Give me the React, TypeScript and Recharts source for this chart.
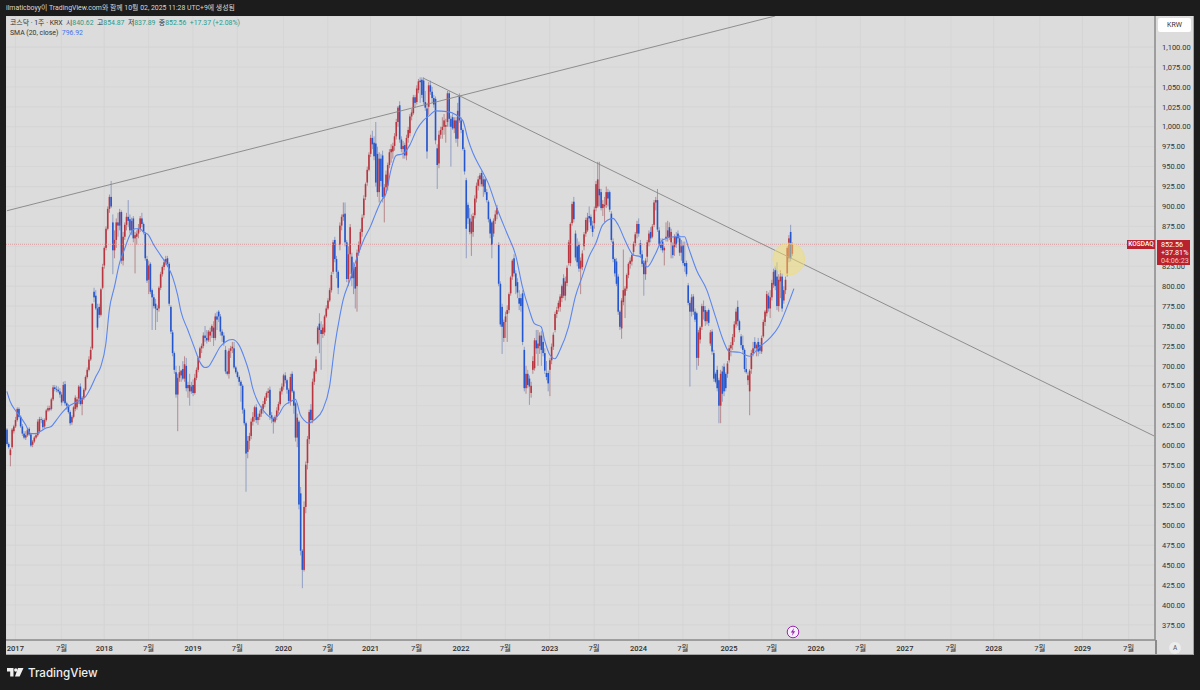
import React from 'react';
import { ComposedChart, Bar, Line, XAxis, YAxis, CartesianGrid, ReferenceLine, ReferenceDot } from 'recharts';

// weekly candles as [open, high, low, close]
const late2016 = [[620,622,600,602],[602,604,596,598],[588,597,574,595],[598,622,596,620],[618,626,615,624]];
const candles2017 = [
  [624,636,622,632],[632,648,630,646],[646,648,634,636],[636,638,622,624],[624,627,612,615],[615,618,608,610],[610,618,607,613],[613,622,611,620],
  [621,623,612,614],[614,616,598,600],[601,607,598,605],[605,612,603,610],[610,616,608,613],[613,633,611,630],[618,636,615,633],[633,636,628,632],
  [632,634,620,623],[624,634,622,632],[632,646,630,644],[644,650,642,647],[647,650,643,645],[646,660,644,658],[658,676,656,673],[673,676,668,671],
  [671,675,667,670],[670,674,666,668],[668,672,660,664],[664,667,650,654],[656,680,654,676],[677,681,650,653],[653,655,645,650],[650,652,640,642],
  [642,644,625,628],[629,638,626,636],[636,650,634,648],[646,663,643,660],[648,661,645,658],[659,676,652,674],[674,678,650,652],[652,662,638,660],
  [660,672,657,670],[670,688,668,686],[686,698,684,695],[695,712,693,708],[708,724,706,720],[722,778,720,778],[793,798,780,786],[788,795,770,772],
  [772,778,745,748],[774,778,760,764],[764,798,762,796],[798,828,796,824],
];
const candles2018 = [
  [826,850,822,848],[848,875,845,872],[872,900,870,897],[897,915,892,912],[912,932,898,900],[880,890,815,845],[845,870,835,858],[858,885,848,880],
  [880,892,862,876],[876,897,870,893],[893,895,828,832],[832,868,826,862],[862,880,858,877],[877,892,870,887],[887,908,874,882],[884,890,866,870],
  [870,886,864,882],[885,888,855,860],[860,868,816,864],[862,870,852,866],[866,878,860,872],[872,888,868,885],[885,892,874,878],[878,880,865,868],
  [866,868,832,835],[834,838,804,807],[808,832,790,826],[828,830,790,793],[795,797,745,786],[786,790,772,775],[778,784,745,772],[772,776,755,770],
  [772,800,768,798],[798,818,795,815],[815,826,812,824],[824,834,820,830],[830,838,826,834],[835,838,824,828],[828,830,775,778],[774,776,740,743],
  [742,745,712,716],[716,718,690,695],[692,700,660,664],[664,690,618,685],[685,700,680,692],[688,695,680,694],[696,706,682,684],[684,712,680,702],
  [700,710,668,672],[672,680,660,676],[676,690,650,668],[668,680,665,674],[676,683,662,666],
];
const candles2019 = [
  [666,690,664,685],[685,698,682,695],[695,712,692,710],[710,724,708,722],[722,728,716,725],[725,742,722,738],[738,750,730,735],[735,745,728,732],
  [732,745,730,743],[738,748,730,743],[743,752,735,750],[748,756,725,735],[735,766,732,762],[762,768,745,758],[768,770,755,762],[762,765,738,743],
  [743,746,730,738],[738,742,725,729],[720,725,690,693],[693,718,688,690],[690,722,684,719],[719,725,710,722],[722,730,716,724],[722,730,696,698],
  [698,700,690,692],[692,694,684,686],[686,688,675,680],[680,682,655,675],[675,677,640,645],[645,647,625,628],[628,630,542,590],[592,612,584,606],
  [606,616,595,612],[612,634,608,630],[630,642,625,636],[636,650,630,648],[648,652,628,632],[632,640,626,636],[636,644,632,640],[640,650,636,646],
  [646,656,640,652],[652,662,648,660],[660,668,656,666],[666,672,660,668],[670,674,632,638],[638,642,628,634],[634,636,615,630],[630,638,628,636],
  [636,648,632,644],[644,655,640,652],[652,672,650,668],[668,678,664,674],
];
const candles2020 = [
  [674,690,670,688],[688,692,678,682],[682,684,665,670],[670,672,652,656],[656,690,650,686],[690,693,666,668],[668,670,640,650],[653,655,605,610],
  [610,640,598,635],[630,632,520,526],[540,548,462,468],[468,470,421,444],[444,530,442,523],[523,580,515,576],[578,612,570,608],[608,645,602,642],
  [645,652,628,632],[632,684,628,680],[680,697,676,693],[693,712,690,708],[728,750,726,748],[753,766,716,745],[745,756,695,740],[740,752,735,748],
  [742,764,738,762],[762,776,760,772],[772,785,770,782],[782,798,780,795],[795,818,792,814],[818,858,815,855],[858,862,830,834],[834,838,810,818],
  [818,820,790,798],[852,880,845,876],[876,890,870,887],[887,905,882,890],[891,905,850,855],[855,858,805,809],[809,850,800,840],[840,878,815,874],
  [837,842,800,810],[810,830,790,822],[824,826,772,797],[800,846,768,842],[842,856,838,852],[852,872,846,868],[868,890,862,886],[889,914,885,910],
  [912,930,908,928],[930,950,926,946],[946,968,944,965],[966,990,962,986],
];
const candles2021 = [
  [986,995,972,978],[980,988,958,963],[979,1006,925,930],[966,975,912,918],[918,968,905,960],[960,966,925,932],[964,970,905,912],[912,928,880,924],
  [924,945,918,940],[926,955,920,952],[952,972,948,968],[968,978,955,972],[969,980,960,976],[976,992,970,988],[988,1010,984,1006],[1006,1026,1000,1024],
  [1027,1032,980,984],[984,988,968,972],[972,982,960,976],[977,980,960,964],[964,990,958,986],[986,1000,980,996],[992,1016,988,1013],[1013,1022,1008,1018],
  [1017,1040,1015,1037],[1037,1040,1024,1030],[1031,1052,1028,1048],[1046,1060,1042,1057],[1058,1062,1030,1056],[1059,1062,1036,1040],[1058,1062,1028,1031],[1031,1045,1020,1024],
  [1023,1030,960,969],[1025,1056,1015,1052],[1052,1058,1040,1044],[1044,1050,1030,1036],[1036,1040,1024,1028],[1035,1038,978,983],[973,978,922,952],[954,995,948,990],
  [990,1000,985,996],[996,1012,985,1000],[1000,1016,990,1008],[1000,1010,980,1002],[1006,1045,1000,1042],[1042,1045,1000,1010],[1010,1014,950,1000],[1012,1016,996,998],
  [998,1012,992,1008],[1008,1012,980,985],[985,1030,975,1020],[1038,1042,1005,1008],
];
const candles2022 = [
  [1008,1012,992,996],[996,998,970,972],[971,974,940,944],[933,936,835,872],[902,905,878,885],[885,898,865,868],[866,890,838,881],[868,892,862,888],
  [889,914,885,910],[910,930,905,926],[926,938,920,934],[934,942,925,939],[942,945,925,928],[925,938,912,934],[934,936,915,918],[918,922,905,908],
  [906,908,880,884],[884,886,860,866],[880,882,835,852],[866,885,862,882],[882,895,878,890],[890,902,884,898],[852,855,800,803],[803,806,749,752],
  [774,778,715,749],[735,758,730,755],[755,768,735,762],[765,776,730,770],[770,792,766,790],[791,813,788,811],[812,834,808,832],[835,840,812,816],
  [816,820,790,800],[805,810,785,792],[785,795,770,778],[785,790,768,775],[791,795,726,730],[720,724,668,672],[672,700,665,690],[690,695,672,676],
  [684,688,651,674],[666,680,660,675],[695,712,690,706],[697,735,694,732],[732,745,715,722],[722,745,700,728],[725,742,715,738],[738,744,700,720],
  [730,742,712,716],[716,722,690,694],[691,706,682,686],[691,694,668,678],
];
const candles2023 = [
  [695,710,662,707],[707,728,702,724],[724,742,720,739],[745,768,742,765],[765,774,760,770],[772,782,768,779],[774,790,768,787],[785,802,780,800],
  [810,815,785,788],[788,812,782,806],[804,826,800,823],[829,858,826,855],[829,880,825,878],[879,906,876,903],[906,912,880,884],[866,870,832,836],
  [850,860,825,830],[852,856,818,822],[822,836,790,832],[824,845,820,841],[850,868,845,865],[866,886,862,883],[870,892,868,886],[888,900,880,885],
  [887,890,872,876],[876,882,862,868],[879,900,872,896],[898,932,894,928],[900,956,898,934],[922,956,900,914],[918,922,895,898],[898,908,888,903],
  [900,912,880,902],[902,925,898,918],[918,922,900,910],[918,920,893,896],[891,894,855,858],[856,860,830,834],[834,836,812,816],[831,835,800,803],
  [812,815,764,768],[768,770,745,749],[747,785,734,782],[780,846,776,795],[788,800,760,797],[797,816,794,814],[814,830,810,828],[828,836,822,832],
  [831,842,826,839],[843,856,838,853],[854,868,850,865],[866,882,860,878],
];
const candles2024 = [
  [878,885,862,866],[854,858,836,840],[840,845,824,828],[829,832,788,815],[815,835,808,832],[837,858,830,855],[855,870,850,866],[868,874,855,860],
  [862,878,860,875],[877,908,874,905],[905,912,895,908],[908,922,868,871],[870,874,850,852],[852,860,845,848],[856,860,842,845],[845,850,826,848],
  [860,880,856,862],[862,882,856,870],[874,880,858,861],[855,872,835,868],[851,855,835,839],[849,865,838,862],[862,868,848,852],[866,870,855,860],
  [860,864,838,842],[842,858,832,850],[851,856,826,829],[829,856,818,825],[829,832,812,815],[801,804,776,779],[779,782,674,768],[768,790,762,786],
  [787,790,764,768],[768,772,755,758],[766,768,695,710],[710,745,700,742],[733,750,728,748],[749,778,745,775],[775,782,758,768],[770,775,750,756],
  [756,770,752,768],[770,772,750,754],[728,745,725,742],[743,746,714,718],[716,720,680,684],[690,692,678,680],[695,700,668,672],[682,685,628,650],
  [650,695,628,690],[693,700,655,665],[699,703,662,668],[690,692,668,672],[690,706,685,703],
];
const candles2025 = [
  [707,726,704,722],[722,730,712,726],[726,740,720,736],[736,756,730,752],[752,772,748,768],[774,782,750,756],[756,758,742,745],[737,740,722,726],
  [726,738,715,720],[720,722,692,696],[696,710,690,692],[682,692,676,688],[668,696,638,694],[696,720,690,716],[716,730,712,722],[730,736,718,722],
  [722,728,712,726],[730,735,712,718],[726,730,715,719],[718,738,715,735],[737,758,735,755],[755,770,750,768],[766,794,762,790],[788,792,768,772],
  [772,795,760,786],[786,808,782,804],[802,822,798,818],[820,825,795,800],[812,830,770,775],[775,815,768,808],[806,820,785,812],[812,816,768,772],
  [782,800,778,795],[795,812,790,808],[816,850,812,848],[835,864,830,860],[868,877,831,835],[840.62,854.87,837.89,852.56],
];

// SMA 20 samples: week index and value
const smaWeeks = [0,2,5,8,11,14,17,19,23,26,29,33,36,41,46,49,52,55,58,60,63,66,69,72,75,78,80,83,86,90,94,97,100,102,106,110,113,116,118,121,125,128,132,136,139,142,144,147,151,156,159,162,166,169,172,174,177,180,185,189,192,195,197,201,204,209,213,216,219,222,225,228,232,236,240,244,248,251,258,263,267,270,273,278,282,287,293,298,302,306,309,313,315,318,321,324,329,333,337,341,345,349,355,358,362,367,371,375,380,384,391,397,399,404,410,415,420,423,429,435,441,447,452,457,461];
const smaValues = [668,655,644,636,626,615,615,617,622,624,632,643,649,655,661,672,686,699,728,770,799,829,847,864,872,872,868,864,852,839,826,812,789,768,745,722,705,698,699,709,724,730,733,726,711,691,672,655,642,634,638,649,655,658,638,632,628,632,645,674,724,762,783,808,829,858,875,891,906,916,946,964,966,977,996,1008,1015,1020,1019,1015,1008,985,967,946,929,898,866,839,799,770,753,749,732,714,709,720,749,787,812,837,854,877,885,877,858,839,837,824,841,858,862,862,850,820,795,762,730,718,717,712,724,735,749,774,796.92];

const tickWeeks = [5,32,57,83,109,135,162,188,213,240,266,292,318,344,370,396,423,448,474,500,526,553,578,605,630,657];
const tickLabels = ['2017','7월','2018','7월','2019','7월','2020','7월','2021','7월','2022','7월','2023','7월','2024','7월','2025','7월','2026','7월','2027','7월','2028','7월','2029','7월'];
const priceTicks = [375,400,425,450,475,500,525,550,575,600,625,650,675,700,725,750,775,800,825,850,875,900,925,950,975,1000,1025,1050,1075,1100];

const lastPrice = 852.56;
const slots = 673;
const candles = [...late2016, ...candles2017, ...candles2018, ...candles2019, ...candles2020, ...candles2021, ...candles2022, ...candles2023, ...candles2024, ...candles2025];

const rows: any[] = Array.from({ length: slots }, (_, i) => ({ i }));
candles.forEach((c, i) => {
  rows[i].open = c[0];
  rows[i].high = c[1];
  rows[i].low = c[2];
  rows[i].close = c[3];
  rows[i].range = [c[2], c[1]];
});
smaWeeks.forEach((w, n) => { rows[w].sma = smaValues[n]; });

const FONT = "Roboto, 'Noto Sans CJK KR', sans-serif";
const RED = '#b93540';
const BLUE = '#2456cf';
const TEAL = '#1f9c8c';

const Candle = (props: any) => {
  const { x, y, width, height, payload } = props;
  if (payload.high === undefined) return null;
  const h = Math.abs(height);
  const top = Math.min(y, y + height);
  const yOf = (p: number) => top + ((payload.high - p) / (payload.high - payload.low)) * h;
  const cx = x + width / 2;
  const up = payload.close >= payload.open;
  const color = up ? RED : BLUE;
  const y1 = yOf(Math.max(payload.open, payload.close));
  const y2 = yOf(Math.min(payload.open, payload.close));
  return (
    <g>
      <line x1={cx} x2={cx} y1={top} y2={top + h} stroke={up ? '#ad7478' : '#7c8fbd'} strokeWidth={0.8} />
      <rect x={cx - 0.8} y={y1} width={1.6} height={Math.max(y2 - y1, 0.8)} fill={color} />
    </g>
  );
};

const TimeTick = (props: any) => {
  const { x, y, payload } = props;
  const label = tickLabels[tickWeeks.indexOf(payload.value)];
  const isYear = label && label.length === 4;
  return (
    <text x={x} y={y + 3} textAnchor="middle" fontSize={7.5} fontFamily={FONT} fontWeight={isYear ? 500 : 400} fill="#2e2e2e">
      {label}
    </text>
  );
};

const abs = (left: number, top: number, extra: React.CSSProperties = {}): React.CSSProperties => ({
  position: 'absolute', left, top, whiteSpace: 'nowrap', ...extra,
});

export default function App() {
  return (
    <div style={{ position: 'fixed', left: 0, top: 0, width: 1200, height: 690, background: '#1c1c1c', fontFamily: FONT, overflow: 'hidden' }}>
      <div style={abs(6, 3, { color: '#d8d8d8', fontSize: 6.9, lineHeight: '11px' })}>
        ilmaticboyy이 TradingView.com와 함께 10월 02, 2025 11:28 UTC+9에 생성됨
      </div>

      <div style={{ position: 'absolute', left: 6, top: 16, width: 1188, height: 639, background: '#dcdcdc' }}>
        <ComposedChart width={1188} height={639} data={rows} margin={{ top: 0, right: 0, bottom: 0, left: 0 }} barCategoryGap={0}>
          <CartesianGrid stroke="#d3d3d3" strokeWidth={0.8} />
          <XAxis
            dataKey="i"
            ticks={tickWeeks}
            interval={0}
            height={15}
            tick={<TimeTick />}
            tickLine={false}
            axisLine={{ stroke: '#8a8a8a', strokeWidth: 1.5 }}
          />
          <YAxis
            orientation="right"
            width={39}
            domain={[356, 1139]}
            ticks={priceTicks}
            interval={0}
            allowDataOverflow
            tickLine={false}
            tickMargin={1}
            axisLine={{ stroke: '#8a8a8a', strokeWidth: 1.5 }}
            tick={{ fontSize: 7.5, fontFamily: FONT, fill: '#333', textAnchor: 'start' }}
            tickFormatter={(v: number) => (v === 850 ? '' : v.toLocaleString('en-US', { minimumFractionDigits: 2 }))}
          />
          <ReferenceLine y={lastPrice} stroke="#dc8f94" strokeWidth={0.8} strokeDasharray="1 1" />
          <ReferenceLine segment={[{ x: 0, y: 894.6 }, { x: 450, y: 1139 }]} stroke="#858585" strokeWidth={0.9} />
          <ReferenceLine segment={[{ x: 244, y: 1061 }, { x: 672, y: 612 }]} stroke="#858585" strokeWidth={0.9} />
          <Bar dataKey="range" shape={<Candle />} isAnimationActive={false} />
          <Line dataKey="sma" type="monotone" connectNulls dot={false} stroke="#5b86ee" strokeWidth={1.1} isAnimationActive={false} />
          <ReferenceDot x={458} y={834} r={16} fill="#f2de6e" fillOpacity={0.5} stroke="#f2de6e" strokeOpacity={0.5} />
        </ComposedChart>
      </div>

      {/* legend */}
      <div style={abs(10, 18, { fontSize: 6.9, lineHeight: '11px', color: '#333' })}>
        코스닥 · 1주 · KRX&nbsp;&nbsp;시<span style={{ color: TEAL }}>840.62</span>&nbsp;&nbsp;고<span style={{ color: TEAL }}>854.87</span>&nbsp;&nbsp;저<span style={{ color: TEAL }}>837.89</span>&nbsp;&nbsp;종<span style={{ color: TEAL }}>852.56</span>&nbsp;&nbsp;<span style={{ color: TEAL }}>+17.37 (+2.08%)</span>
      </div>
      <div style={abs(10, 28, { fontSize: 6.9, lineHeight: '11px', color: '#333' })}>
        SMA (20, close)&nbsp;&nbsp;<span style={{ color: '#3f74ee' }}>796.92</span>
      </div>

      {/* right side tags */}
      <div style={abs(1158, 18, { width: 33, height: 14, background: '#fff', borderRadius: 2, fontSize: 7, lineHeight: '14px', textAlign: 'center', color: '#333' })}>KRW</div>
      <div style={abs(1127, 240, { width: 28, height: 9, background: '#b8222f', color: '#fff', fontSize: 6.5, lineHeight: '9px', textAlign: 'center', fontWeight: 500 })}>KOSDAQ</div>
      <div style={abs(1157, 240, { width: 33, height: 25, background: '#b8222f', color: '#fff', fontSize: 7.2, lineHeight: '8px', padding: '1px 0 0 4px', boxSizing: 'border-box' })}>
        852.56<br />+37.81%<br /><span style={{ color: '#f0c4c8' }}>04:06:23</span>
      </div>

      {/* auto scale button, corner separator, outer edges */}
      <div style={abs(1155, 640, { width: 1.5, height: 15, background: '#8a8a8a' })} />
      <div style={abs(1169, 642, { width: 12, height: 12, borderRadius: 6, background: '#ececec', color: '#555', fontSize: 6.5, lineHeight: '12px', textAlign: 'center' })}>A</div>
      <div style={abs(6, 654, { width: 1188, height: 1, background: '#a3a3a3' })} />
      <div style={abs(1193, 16, { width: 1, height: 639, background: '#a3a3a3' })} />

      {/* lightning badge on the time scale */}
      <svg style={{ position: 'absolute', left: 786, top: 625 }} width={14} height={14}>
        <circle cx={7} cy={7} r={5.8} fill="#f5eefc" stroke="#9c27b0" strokeWidth={1} />
        <path d="M8 3 L4.8 7.6 H6.8 L5.8 11 L9.2 6.2 H7.2 Z" fill="#9c27b0" />
      </svg>

      {/* footer logo */}
      <svg style={{ position: 'absolute', left: 7, top: 667 }} width={17} height={11}>
        <path d="M0 1 H6.5 V9.5 H3.2 V4.5 H0 Z M11 1 H16.5 L12.6 9.5 H8 Z" fill="#f0f0f0" />
        <circle cx={8.8} cy={3} r={1.7} fill="#f0f0f0" />
      </svg>
      <div style={abs(28, 664, { color: '#f0f0f0', fontSize: 11.6, lineHeight: '18px', fontWeight: 500, fontFamily: 'Inter, Roboto, sans-serif' })}>TradingView</div>
    </div>
  );
}
